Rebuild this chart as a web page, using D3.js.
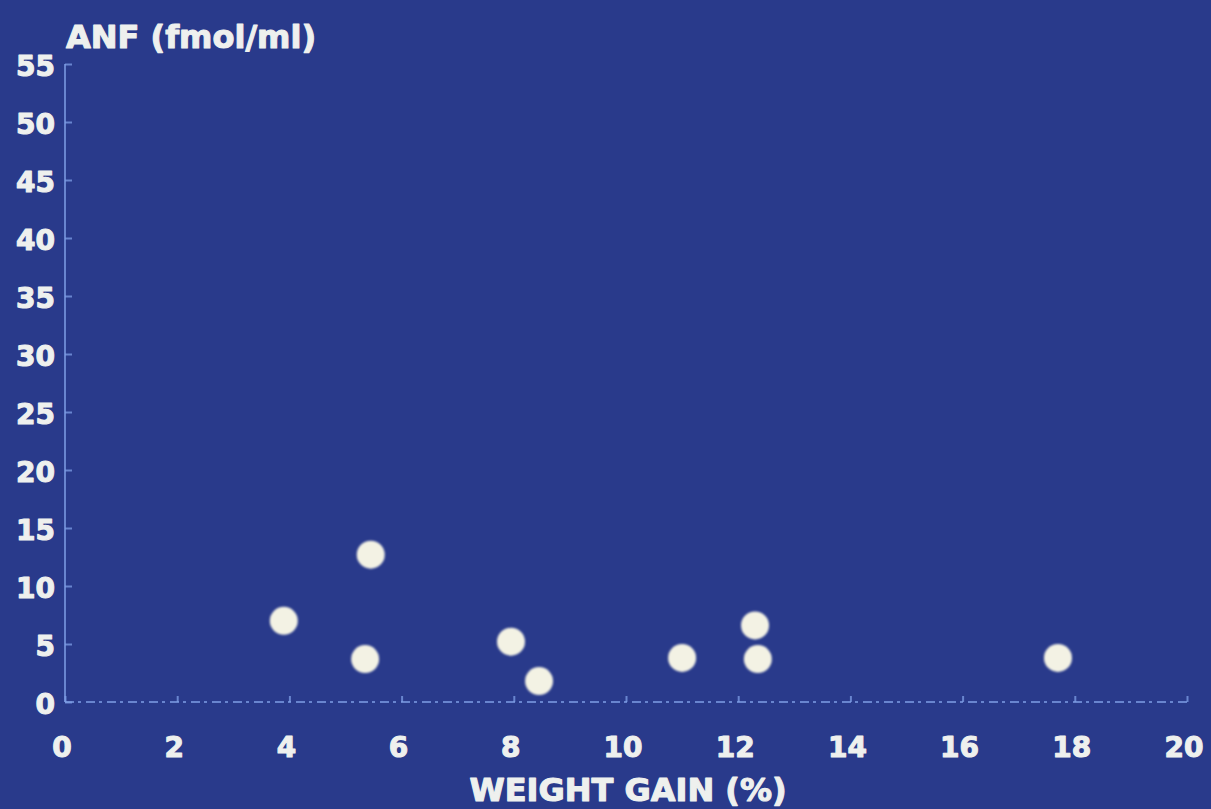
<!DOCTYPE html>
<html>
<head>
<meta charset="utf-8">
<script src="https://cdn.jsdelivr.net/npm/d3@7"></script>
<style>
  html, body { margin: 0; padding: 0; background: #293a8b; }
  svg { display: block; }
</style>
</head>
<body>
<svg id="chart" width="1211" height="809"></svg>
<script>
// ---- data ----
const weightGain = [3.9, 5.45, 5.35, 7.95, 8.45, 11.0, 12.3, 12.35, 17.7];
const anf        = [7.0, 12.7, 3.7, 5.2, 1.8, 3.8, 6.6, 3.7, 3.8];
const xTicks = [0, 2, 4, 6, 8, 10, 12, 14, 16, 18, 20];
const yTicks = [0, 5, 10, 15, 20, 25, 30, 35, 40, 45, 50, 55];
const yTitle = "ANF (fmol/ml)";
const xTitle = "WEIGHT GAIN (%)";

const svg = d3.select("#chart");
const W = 1211, H = 809;
svg.append("rect").attr("width", W).attr("height", H).attr("fill", "#293a8b");

const x = d3.scaleLinear().domain([0, 20]).range([65, 1187]);
const y = d3.scaleLinear().domain([0, 55]).range([702, 64]);

const axisColor = "#7f9fe6";
const textColor = "#eef0ee";
const font = "'DejaVu Sans', sans-serif";

function heavy(sel, size) {
  sel.attr("font-family", font).attr("font-weight", "bold").attr("font-size", size)
    .attr("fill", textColor).attr("stroke", textColor).attr("stroke-width", 1.1)
    .attr("stroke-linejoin", "round");
}

// y axis
const yAxis = svg.append("g").attr("transform", `translate(${x(0)},0)`)
  .call(d3.axisRight(y).tickValues(yTicks).tickSize(7).tickFormat(""));
yAxis.select(".domain").attr("stroke", axisColor).attr("stroke-width", 2)
  .attr("stroke-opacity", 0.75).attr("d", `M0,${y(55)}V${y(0)}`);
yAxis.selectAll(".tick line").attr("stroke", axisColor).attr("stroke-width", 2).attr("stroke-opacity", 0.75);

// y tick labels
svg.append("g").selectAll("text").data(yTicks).join("text")
  .attr("x", 55).attr("y", d => y(d) + 12)
  .attr("text-anchor", "end")
  .call(heavy, 28)
  .text(d => d);

// x axis
const xAxis = svg.append("g").attr("transform", `translate(0,${y(0)})`)
  .call(d3.axisTop(x).tickValues(xTicks).tickSize(6).tickFormat(""));
xAxis.select(".domain").attr("stroke", axisColor).attr("stroke-width", 2)
  .attr("stroke-opacity", 0.75).attr("stroke-dasharray", "9,4,3,5")
  .attr("d", `M${x(0)},0H${x(20)}`);
xAxis.selectAll(".tick line").attr("stroke", axisColor).attr("stroke-width", 2).attr("stroke-opacity", 0.75);

// x tick labels
svg.append("g").selectAll("text").data(xTicks).join("text")
  .attr("x", d => x(d) - 3).attr("y", 757)
  .attr("text-anchor", "middle")
  .call(heavy, 28)
  .text(d => d);

// titles
svg.append("text").attr("x", 66).attr("y", 48)
  .call(heavy, 32).text(yTitle);
svg.append("text").attr("x", 628).attr("y", 801)
  .attr("text-anchor", "middle")
  .call(heavy, 32).text(xTitle);

// glow filter
const defs = svg.append("defs");
const f = defs.append("filter").attr("id", "glow").attr("x", "-50%").attr("y", "-50%").attr("width", "200%").attr("height", "200%");
f.append("feGaussianBlur").attr("stdDeviation", 1.2);

// points
const pts = weightGain.map((w, i) => ({ w, a: anf[i] }));
svg.append("g").selectAll("circle").data(pts).join("circle")
  .attr("cx", d => x(d.w)).attr("cy", d => y(d.a)).attr("r", 14)
  .attr("fill", "#f3f2e4").attr("filter", "url(#glow)");
</script>
</body>
</html>
